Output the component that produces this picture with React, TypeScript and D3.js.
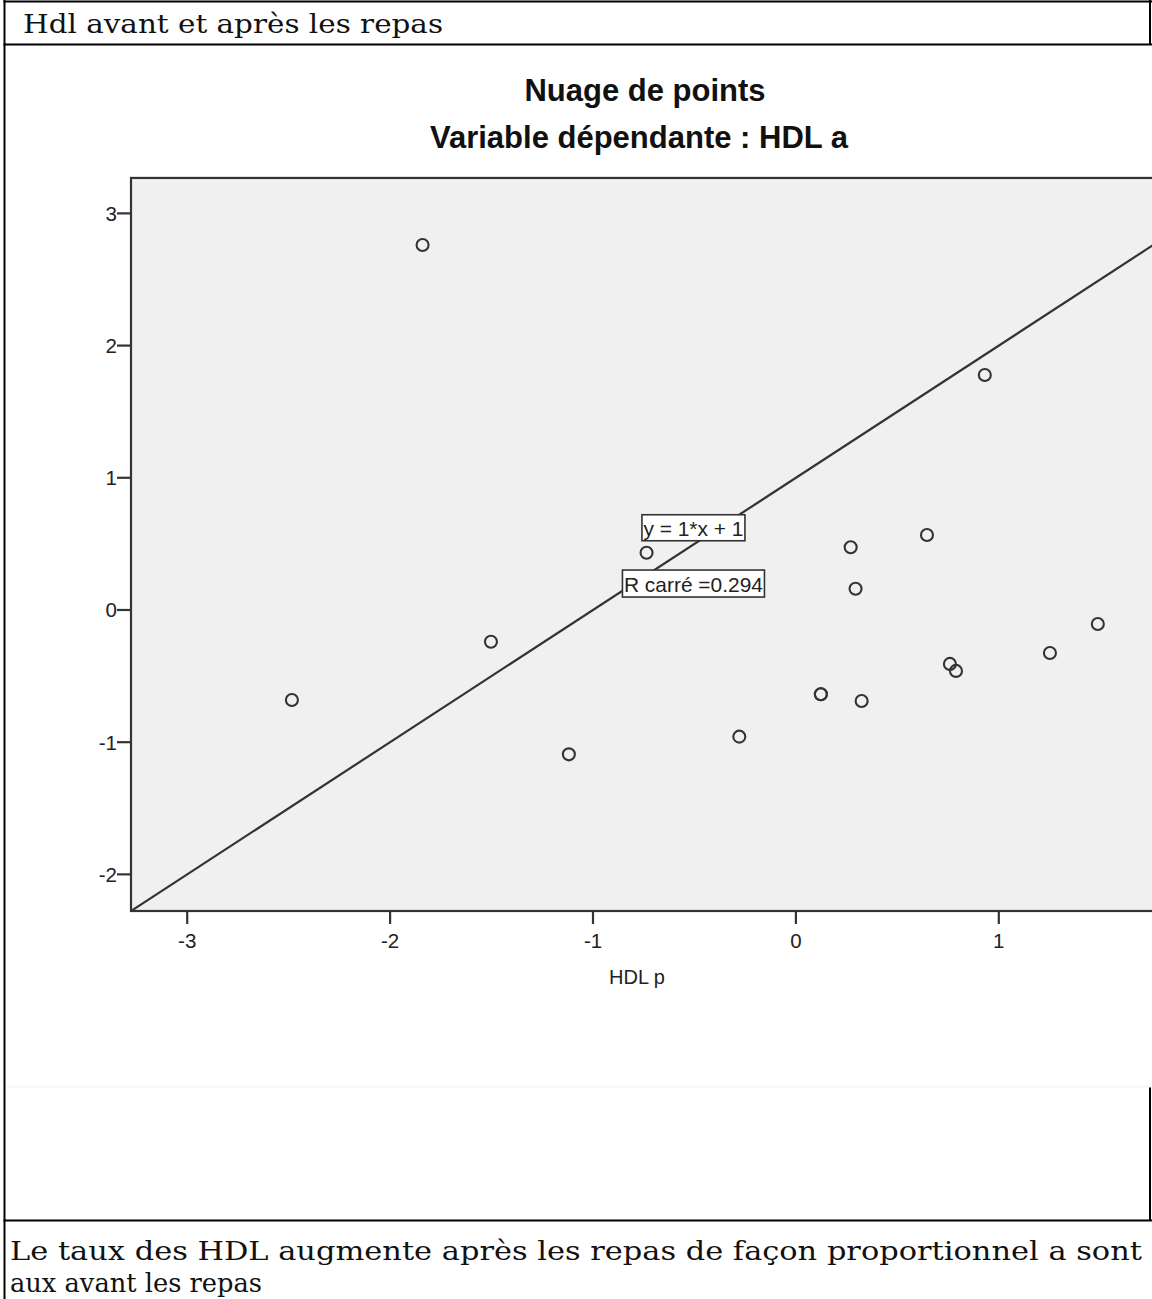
import React from "react";
import * as d3 from "d3";

const docTitle = "Hdl avant et après les repas";
const chartTitle = "Nuage de points";
const chartSubtitle = "Variable dépendante : HDL a";
const xLabel = "HDL p";
const fitLabel = "y = 1*x + 1";
const r2Label = "R carré =0.294";
const conclusionLine1 = "Le taux des HDL augmente après les repas de façon proportionnel a sont";
const conclusionLine2 = "aux avant les repas";

const xTicks = [-3, -2, -1, 0, 1];
const yTicks = [-2, -1, 0, 1, 2, 3];

// HDL p (x) and HDL a (y)
const hdlP = [-1.84, 0.931, -0.736, 0.27, 0.646, 0.294, -1.503, 1.488, 1.252, 0.759, 0.789, 0.123, 0.123, 0.324, -2.484, -0.279, -1.119];
const hdlA = [2.761, 1.778, 0.433, 0.474, 0.567, 0.161, -0.24, -0.106, -0.325, -0.408, -0.461, -0.638, -0.638, -0.688, -0.681, -0.958, -1.092];

const fitSlope = 1;
const fitIntercept = 1;

const X_MIN = -3.277;
const X_MAX = 1.9;
const Y_MIN = -2.277;
const Y_MAX = 3.268;

export default function App() {
  const W = 1152;
  const H = 1299;
  const x = d3.scaleLinear().domain([X_MIN, X_MAX]).range([131, 131 + (X_MAX - X_MIN) * 202.9]);
  const y = d3.scaleLinear().domain([Y_MIN, Y_MAX]).range([911, 911 - (Y_MAX - Y_MIN) * 132.2]);
  const axisColor = "#333";
  const sans = "'Liberation Sans', Arial, sans-serif";
  const serif = "'DejaVu Serif', 'Liberation Serif', serif";

  const linePts: [number, number][] = [X_MIN, X_MAX].map((v) => [x(v), y(fitSlope * v + fitIntercept)]);
  const line = d3.line()(linePts) || "";

  const labelX = x(-0.505);
  const fitY = y(0.622);
  const r2Y = y(0.2);

  return (
    <svg width={W} height={H} style={{ position: "absolute", left: 0, top: 0, background: "#fff" }}>
      <defs>
        <clipPath id="plotClip">
          <rect x={x(X_MIN)} y={y(Y_MAX)} width={x(X_MAX) - x(X_MIN)} height={y(Y_MIN) - y(Y_MAX)} />
        </clipPath>
      </defs>
      <rect x={0} y={0} width={W} height={H} fill="#fff" />

      {/* document table */}
      <text x={23} y={33} fontFamily={serif} fontSize={26} fill="#111" textLength={420} lengthAdjust="spacingAndGlyphs">{docTitle}</text>
      <line x1={3.5} x2={W} y1={1.5} y2={1.5} stroke="#000" strokeWidth={2} />
      <line x1={4.5} x2={4.5} y1={0} y2={H} stroke="#000" strokeWidth={2} />
      <line x1={3.5} x2={W} y1={44.5} y2={44.5} stroke="#000" strokeWidth={2} />
      <line x1={1150} x2={1150} y1={0} y2={44} stroke="#000" strokeWidth={2} />
      <line x1={1150} x2={1150} y1={1087} y2={1221} stroke="#000" strokeWidth={2} />
      <line x1={3.5} x2={W} y1={1220.5} y2={1220.5} stroke="#000" strokeWidth={2} />
      <line x1={6} x2={W} y1={1087} y2={1087} stroke="#f3f3f3" strokeWidth={1} />

      {/* chart titles */}
      <text x={645} y={101} textAnchor="middle" fontFamily={sans} fontWeight="bold" fontSize={31} fill="#111">{chartTitle}</text>
      <text x={639} y={148} textAnchor="middle" fontFamily={sans} fontWeight="bold" fontSize={31} fill="#111">{chartSubtitle}</text>

      {/* plot area */}
      <rect x={x(X_MIN)} y={y(Y_MAX)} width={x(X_MAX) - x(X_MIN)} height={y(Y_MIN) - y(Y_MAX)} fill="#f0f0f0" stroke={axisColor} strokeWidth={2.2} />

      {/* ticks */}
      {yTicks.map((t) => (
        <g key={"y" + t}>
          <line x1={x(X_MIN) - 14} x2={x(X_MIN)} y1={y(t)} y2={y(t)} stroke={axisColor} strokeWidth={2.2} />
          <text x={x(X_MIN) - 14} y={y(t) + 7.5} textAnchor="end" fontFamily={sans} fontSize={20.5} fill="#222">{t}</text>
        </g>
      ))}
      {xTicks.map((t) => (
        <g key={"x" + t}>
          <line x1={x(t)} x2={x(t)} y1={y(Y_MIN)} y2={y(Y_MIN) + 13} stroke={axisColor} strokeWidth={2.2} />
          <text x={x(t)} y={948} textAnchor="middle" fontFamily={sans} fontSize={20.5} fill="#222">{t}</text>
        </g>
      ))}
      <text x={637} y={984} textAnchor="middle" fontFamily={sans} fontSize={20} fill="#222">{xLabel}</text>

      {/* fit line and points */}
      <g clipPath="url(#plotClip)">
        <path d={line} fill="none" stroke="#333" strokeWidth={2.2} />
        {hdlP.map((v, i) => (
          <circle key={i} cx={x(v)} cy={y(hdlA[i])} r={6} fill="none" stroke="#333" strokeWidth={2.1} />
        ))}
      </g>

      {/* annotations */}
      <rect x={labelX - 51.5} y={fitY - 13} width={103} height={26} fill="#fff" stroke="#333" strokeWidth={1.6} />
      <text x={labelX} y={fitY + 8.5} textAnchor="middle" fontFamily={sans} fontSize={21} fill="#222" textLength={100} lengthAdjust="spacingAndGlyphs">{fitLabel}</text>
      <rect x={labelX - 71} y={r2Y - 13.5} width={142} height={27} fill="#fff" stroke="#333" strokeWidth={1.6} />
      <text x={labelX} y={r2Y + 8.5} textAnchor="middle" fontFamily={sans} fontSize={21} fill="#222" textLength={139} lengthAdjust="spacingAndGlyphs">{r2Label}</text>

      {/* conclusion */}
      <text x={10} y={1260} fontFamily={serif} fontSize={26} fill="#111" textLength={1132} lengthAdjust="spacingAndGlyphs">{conclusionLine1}</text>
      <text x={10} y={1292} fontFamily={serif} fontSize={26} fill="#111" textLength={252} lengthAdjust="spacingAndGlyphs">{conclusionLine2}</text>
    </svg>
  );
}
